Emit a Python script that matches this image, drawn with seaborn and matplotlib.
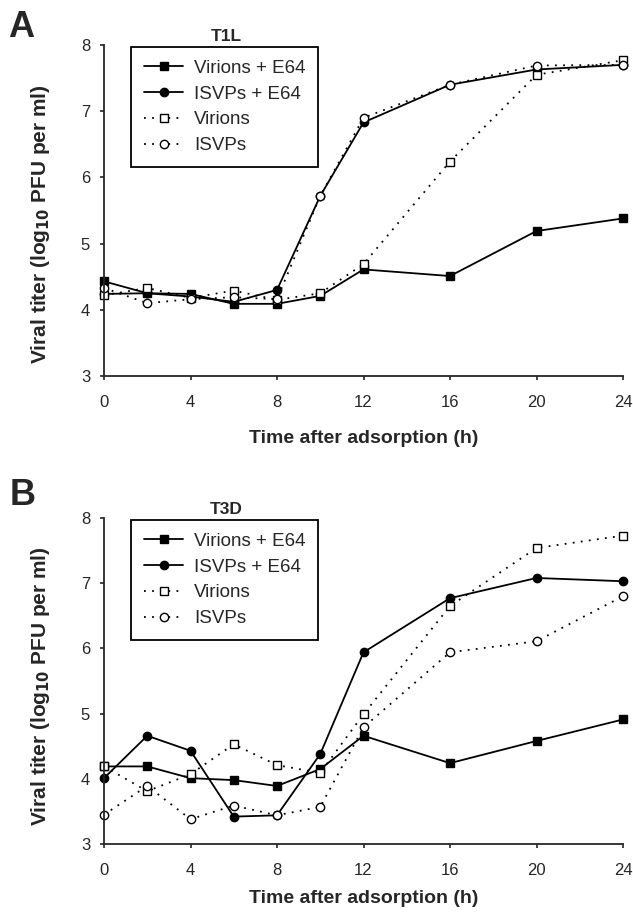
import numpy as np
import pandas as pd
import matplotlib
matplotlib.use('Agg')
import matplotlib.pyplot as plt
import seaborn as sns

hours = [0, 2, 4, 6, 8, 10, 12, 16, 20, 24]
series_names = ['Virions + E64', 'ISVPs + E64', 'Virions', 'ISVPs']

# panel A, T1L
t1l_virions_e64 = [4.43, 4.25, 4.24, 4.09, 4.09, 4.21, 4.61, 4.51, 5.19, 5.38]
t1l_isvps_e64 = [4.24, 4.25, 4.20, 4.12, 4.30, 5.72, 6.83, 7.40, 7.63, 7.70]
t1l_virions = [4.22, 4.33, 4.18, 4.29, 4.15, 4.25, 4.69, 6.24, 7.55, 7.77]
t1l_isvps = [4.33, 4.10, 4.16, 4.19, 4.16, 5.72, 6.90, 7.40, 7.69, 7.70]

# panel B, T3D
t3d_virions_e64 = [4.19, 4.19, 4.01, 3.98, 3.89, 4.15, 4.66, 4.24, 4.58, 4.91]
t3d_isvps_e64 = [4.01, 4.66, 4.43, 3.42, 3.44, 4.38, 5.94, 6.77, 7.08, 7.03]
t3d_virions = [4.19, 3.81, 4.07, 4.53, 4.21, 4.09, 4.99, 6.65, 7.54, 7.73]
t3d_isvps = [3.45, 3.89, 3.38, 3.59, 3.44, 3.57, 4.79, 5.94, 6.11, 6.80]

dotted = (0, (1, 3.5))
styles = {
    'Virions + E64': dict(marker='s', linestyle='-', mfc='black'),
    'ISVPs + E64': dict(marker='o', linestyle='-', mfc='black'),
    'Virions': dict(marker='s', linestyle=dotted, mfc='white'),
    'ISVPs': dict(marker='o', linestyle=dotted, mfc='white'),
}

sns.set_style('ticks')
plt.rcParams['font.family'] = ['Liberation Sans', 'DejaVu Sans']


def draw_panel(ax, title, data, xlabelpad, ylabel_y):
    df = pd.DataFrame({'h': hours * 4,
                       'titer': sum(data, []),
                       'series': [s for s in series_names for _ in hours]})
    for name in series_names:
        st = styles[name]
        sub = df[df['series'] == name]
        sns.lineplot(data=sub, x='h', y='titer', ax=ax, color='black',
                     linestyle=st['linestyle'], linewidth=1.3,
                     marker=st['marker'], markersize=6,
                     markerfacecolor=st['mfc'], markeredgecolor='black',
                     markeredgewidth=1.0, label=name)
    ax.set_xlim(0, 24)
    ax.set_ylim(3, 8)
    ax.set_xticks([0, 4, 8, 12, 16, 20, 24])
    ax.set_yticks([3, 4, 5, 6, 7, 8])
    ax.tick_params(labelsize=12, length=3, width=1.2, direction='out')
    ax.tick_params(axis='x', pad=11)
    ax.tick_params(axis='y', pad=7)
    ax.set_xlabel('Time after adsorption (h)', fontsize=14,
                  fontweight='bold', labelpad=xlabelpad)
    ax.set_ylabel('Viral titer (log$_{\\mathbf{10}}$ PFU per ml)',
                  fontsize=15, fontweight='bold')
    ax.yaxis.set_label_coords(-0.1, ylabel_y)
    sns.despine(ax=ax)
    for sp in ['left', 'bottom']:
        ax.spines[sp].set_linewidth(1.3)
    ax.set_title(title, fontsize=12.5, fontweight='bold', x=0.235, pad=3)
    leg = ax.legend(loc='upper left', bbox_to_anchor=(0.052, 0.995),
                    fontsize=13.5, frameon=True, fancybox=False,
                    edgecolor='black', handlelength=2.1, handletextpad=0.55,
                    borderpad=0.7, labelspacing=0.46, borderaxespad=0)
    leg.get_frame().set_linewidth(1.3)
    leg.get_frame().set_alpha(1)
    for ln in ax.get_lines():
        ln.set_clip_on(False)


fig = plt.figure(figsize=(6.33, 9.14), dpi=100)
ax1 = fig.add_axes([104 / 633, 1 - 376 / 914, 519 / 633, 331 / 914])
ax2 = fig.add_axes([104 / 633, 1 - 844 / 914, 519 / 633, 326 / 914])

draw_panel(ax1, 'T1L', [t1l_virions_e64, t1l_isvps_e64, t1l_virions, t1l_isvps],
           xlabelpad=14, ylabel_y=0.46)
draw_panel(ax2, 'T3D', [t3d_virions_e64, t3d_isvps_e64, t3d_virions, t3d_isvps],
           xlabelpad=8, ylabel_y=0.485)

fig.text(8 / 633, 1 - 37 / 914, 'A', fontsize=26, fontweight='bold', va='baseline')
fig.text(10 / 633, 1 - 505 / 914, 'B', fontsize=26, fontweight='bold', va='baseline')

plt.savefig('out.png', dpi=100)
plt.close()
